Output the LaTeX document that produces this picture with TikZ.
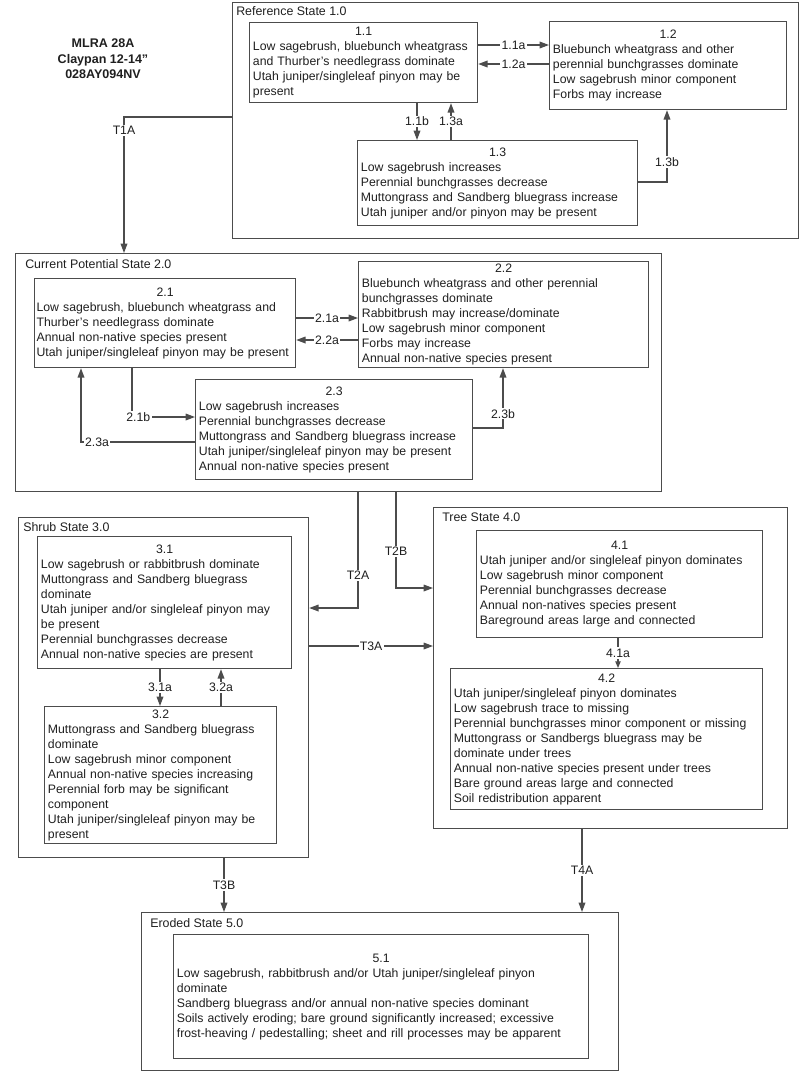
\documentclass[tikz,border=0pt]{standalone}
\usepackage{fontspec}
\setmainfont{Liberation Sans}
\usetikzlibrary{arrows.meta}
\definecolor{linegray}{gray}{0.3}
\definecolor{textgray}{gray}{0.12}
\tikzset{
	statebox/.style={draw=linegray, line width=0.9pt, anchor=north west, inner sep=0pt},
	statelbl/.style={anchor=base west, inner sep=0pt, font=\fontsize{9.3}{11.25}\selectfont, text=textgray},
	phase/.style={draw=linegray, line width=0.9pt, anchor=north west, inner xsep=2.5pt, inner ysep=1pt, align=left, font=\fontsize{9.2}{11.25}\selectfont, text=textgray},
	arr/.style={draw=linegray, line width=0.9pt, -{Triangle[length=7pt,width=5pt]}},
	arrsmall/.style={arr, -{Triangle[length=5pt,width=4pt]}},
	lbl/.style={fill=white, inner sep=1pt, font=\fontsize{9.2}{11.25}\selectfont, text=textgray}
}
\newcommand{\ttl}[1]{\hfill#1\hfill\null}
\begin{document}
\begin{tikzpicture}[x=0.75pt,y=-0.75pt]
	\useasboundingbox (0,0) rectangle (800,1072);
	% header
	\node[align=center, font=\bfseries\fontsize{9.4}{11.6}\selectfont, text=textgray] (head) at (103,59) {MLRA 28A\\ Claypan 12-14"\\ 028AY094NV};
	% states
	\node[statebox, minimum width=424.5pt, minimum height=177pt] (s1) at (232,2) {};
	\node[statebox, minimum width=484.5pt, minimum height=178.5pt] (s2) at (15,253) {};
	\node[statebox, minimum width=217.5pt, minimum height=255pt] (s3) at (18,517) {};
	\node[statebox, minimum width=265.5pt, minimum height=240.75pt] (s4) at (433,507) {};
	\node[statebox, minimum width=357.75pt, minimum height=118.5pt] (s5) at (141,912) {};
	\foreach \s/\dx/\dy/\t in {s1/4/13.5/Reference State 1.0, s2/10/15.5/Current Potential State 2.0, s3/5/14.5/Shrub State 3.0, s4/9/14.5/Tree State 4.0, s5/9/15.5/Eroded State 5.0}
	\node[statelbl] (\s-t) at ([shift={(\dx,\dy)}]\s.north west) {\t};
	% reference state
	\node[phase, text width=166pt, minimum height=60pt] (p11) at (249,22) {\ttl{1.1}\\ Low sagebrush, bluebunch wheatgrass\\ and Thurber's needlegrass dominate\\ Utah juniper/singleleaf pinyon may be\\ present};
	\node[phase, text width=172.75pt, minimum height=66pt] (p12) at (549,21) {\ttl{1.2}\\ Bluebunch wheatgrass and other\\ perennial bunchgrasses dominate\\ Low sagebrush minor component\\ Forbs may increase};
	\node[phase, text width=205pt, minimum height=63.75pt] (p13) at (357,140) {\ttl{1.3}\\ Low sagebrush increases\\ Perennial bunchgrasses decrease\\ Muttongrass and Sandberg bluegrass increase\\ Utah juniper and/or pinyon may be present};
	% current potential state
	\node[phase, inner xsep=1.5pt, text width=192.75pt, minimum height=66.75pt] (p21) at (34,278) {\ttl{2.1}\\ Low sagebrush, bluebunch wheatgrass and\\ Thurber's needlegrass dominate\\ Annual non-native species present\\ \mbox{Utah juniper/singleleaf pinyon may be present}};
	\node[phase, text width=212.5pt, minimum height=79.5pt] (p22) at (358,261) {\ttl{2.2}\\ Bluebunch wheatgrass and other perennial\\ bunchgrasses dominate\\ Rabbitbrush may increase/dominate\\ Low sagebrush minor component\\ Forbs may increase\\ Annual non-native species present};
	\node[phase, text width=202.75pt, minimum height=75pt] (p23) at (195,379) {\ttl{2.3}\\ Low sagebrush increases\\ Perennial bunchgrasses decrease\\ Muttongrass and Sandberg bluegrass increase\\ Utah juniper/singleleaf pinyon may be present\\ Annual non-native species present};
	% shrub state
	\node[phase, text width=185.5pt, minimum height=99pt] (p31) at (37,536) {\ttl{3.1}\\ Low sagebrush or rabbitbrush dominate\\ Muttongrass and Sandberg bluegrass\\ dominate\\ Utah juniper and/or singleleaf pinyon may\\ be present\\ Perennial bunchgrasses decrease\\ Annual non-native species are present};
	\node[phase, text width=169pt, minimum height=102.75pt] (p32) at (44,706) {\ttl{3.2}\\ Muttongrass and Sandberg bluegrass\\ dominate\\ Low sagebrush minor component\\ Annual non-native species increasing\\ Perennial forb may be significant\\ component\\ Utah juniper/singleleaf pinyon may be\\ present};
	% tree state
	\node[phase, text width=209.5pt, minimum height=80.25pt] (p41) at (476,530) {\ttl{4.1}\\ Utah juniper and/or singleleaf pinyon dominates\\ Low sagebrush minor component\\ Perennial bunchgrasses decrease\\ Annual non-natives species present\\ Bareground areas large and connected};
	\node[phase, text width=229pt, minimum height=105.75pt] (p42) at (450,668) {\ttl{4.2}\\ Utah juniper/singleleaf pinyon dominates\\ Low sagebrush trace to missing\\ Perennial bunchgrasses minor component or missing\\ Muttongrass or Sandbergs bluegrass may be\\ dominate under trees\\ Annual non-native species present under trees\\ Bare ground areas large and connected\\ Soil redistribution apparent};
	% eroded state
	\node[phase, text width=306.25pt, minimum height=93pt] (p51) at (173,934) {\ttl{5.1}\\ Low sagebrush, rabbitbrush and/or Utah juniper/singleleaf pinyon\\ dominate\\ Sandberg bluegrass and/or annual non-native species dominant\\ Soils actively eroding; bare ground significantly increased; excessive\\ frost-heaving / pedestalling; sheet and rill processes may be apparent};
	% pathways
	\draw[arr] (p11.east |- 0,45) -- node[lbl]{1.1a} (p12.west |- 0,45);
	\draw[arr] (p12.west |- 0,64) -- node[lbl]{1.2a} (p11.east |- 0,64);
	\draw[arr] (p11.south -| 417,0) -- node[lbl]{1.1b} (p13.north -| 417,0);
	\draw[arr] (p13.north -| 451,0) -- node[lbl]{1.3a} (p11.south -| 451,0);
	\draw[arr] (p13.east |- 0,182) -| node[lbl, pos=0.64]{1.3b} (p12.south -| 667,0);
	\draw[arr] (p21.east |- 0,318) -- node[lbl]{2.1a} (p22.west |- 0,318);
	\draw[arr] (p22.west |- 0,340) -- node[lbl]{2.2a} (p21.east |- 0,340);
	\draw[arr] (p21.south -| 132,0) |- node[lbl, pos=0.55]{2.1b} (p23.west |- 0,417);
	\draw[arr] (p23.west |- 0,442) -| node[lbl, pos=0.43]{2.3a} (p21.south -| 81,0);
	\draw[arr] (p23.east |- 0,428) -| node[lbl, pos=0.62]{2.3b} (p22.south -| 503,0);
	\draw[arr] (p31.south -| 160,0) -- node[lbl]{3.1a} (p32.north -| 160,0);
	\draw[arr] (p32.north -| 221,0) -- node[lbl]{3.2a} (p31.south -| 221,0);
	\draw[arrsmall] (p41.south -| 618,0) -- node[lbl]{4.1a} (p42.north -| 618,0);
	% transitions
	\draw[arr] (s1.west |- 0,117) -| node[lbl, pos=0.55]{T1A} (s2.north -| 124,0);
	\draw[arr] (s2.south -| 358,0) |- node[lbl, pos=0.36]{T2A} (s3.east |- 0,608);
	\draw[arr] (s2.south -| 396,0) |- node[lbl, pos=0.31]{T2B} (s4.west |- 0,588);
	\draw[arr] (s3.east |- 0,646) -- node[lbl]{T3A} (s4.west |- 0,646);
	\draw[arr] (s3.south -| 224,0) -- node[lbl]{T3B} (s5.north -| 224,0);
	\draw[arr] (s4.south -| 582,0) -- node[lbl]{T4A} (s5.north -| 582,0);
\end{tikzpicture}
\end{document}
